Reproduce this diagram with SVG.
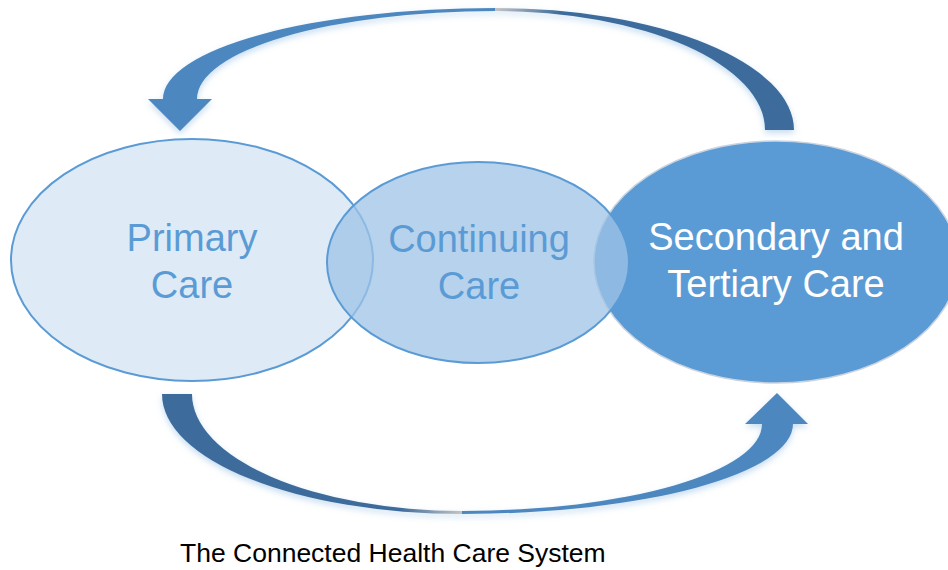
<svg xmlns="http://www.w3.org/2000/svg" width="948" height="570" viewBox="0 0 948 570">
  <style>
    .lbl { font-family: "Liberation Sans", Arial, sans-serif; font-size: 38px; text-anchor: middle; }
    .blue { fill: #5b9bd5; }
    .white { fill: #ffffff; }
    .cap { font-family: "Liberation Sans", Arial, sans-serif; font-size: 26.5px; fill: #000000; }
    .dark { fill: #3e6c9c; }
    .light { fill: #4e87bf; }
  </style>
  <defs>
    <filter id="glow" x="-10%" y="-20%" width="120%" height="140%">
      <feDropShadow dx="0" dy="3" stdDeviation="3" flood-color="#5b9bd5" flood-opacity="0.35"/>
    </filter>
    <linearGradient id="topFade" gradientUnits="userSpaceOnUse" x1="495" y1="0" x2="560" y2="0">
      <stop offset="0" stop-color="#c4c4c4"/>
      <stop offset="1" stop-color="#3e6c9c"/>
    </linearGradient>
    <linearGradient id="botFade" gradientUnits="userSpaceOnUse" x1="462" y1="0" x2="400" y2="0">
      <stop offset="0" stop-color="#c4c4c4"/>
      <stop offset="1" stop-color="#3e6c9c"/>
    </linearGradient>
  </defs>

  <g id="connectors" filter="url(#glow)">
    <g id="top-arrow">
      <path fill="url(#topFade)" d="M 794 130 A 299 122 0 0 0 495 8 L 495 11 A 270 119 0 0 1 765 130 Z"/>
      <path class="light" d="M 495 8 A 332 91 0 0 0 163 99 L 148 99 L 180 131 L 212 99 L 197 99 A 298 88 0 0 1 495 11 Z"/>
    </g>
    <g id="bottom-arrow">
      <path fill="url(#botFade)" d="M 162 394 A 300 120 0 0 0 462 514 L 462 511 A 270 117 0 0 1 192 394 Z"/>
      <path class="light" d="M 462 514 A 331 90 0 0 0 793 424 L 808 424 L 777 393 L 745 424 L 762 424 A 300 87 0 0 1 462 511 Z"/>
    </g>
  </g>

  <g id="primary-care">
    <ellipse cx="192" cy="260" rx="181" ry="121" fill="#deebf7" stroke="#5b9bd5" stroke-width="2"/>
    <text class="lbl blue" x="192" y="251">Primary</text>
    <text class="lbl blue" x="192" y="298">Care</text>
  </g>

  <g id="secondary-tertiary-care">
    <ellipse cx="776" cy="262" rx="182" ry="121" fill="#5b9bd5" stroke="#c9d3df" stroke-width="1.5"/>
    <text class="lbl white" x="776" y="250">Secondary and</text>
    <text class="lbl white" x="776" y="297">Tertiary Care</text>
  </g>

  <g id="continuing-care">
    <ellipse cx="478" cy="262.5" rx="151" ry="100.5" fill="#9dc3e6" fill-opacity="0.75" stroke="#5b9bd5" stroke-width="2"/>
    <text class="lbl blue" x="479" y="252">Continuing</text>
    <text class="lbl blue" x="479" y="299">Care</text>
  </g>

  <text class="cap" x="180" y="562">The Connected Health Care System</text>
</svg>
